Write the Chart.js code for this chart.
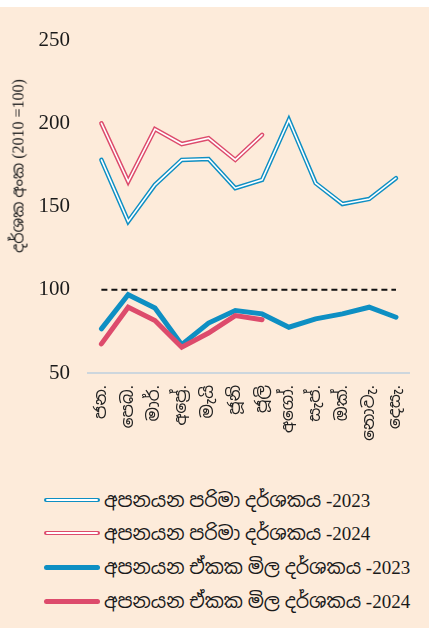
<!DOCTYPE html>
<html>
<head>
<meta charset="utf-8">
<script src="https://cdn.jsdelivr.net/npm/chart.js@4.4.1/dist/chart.umd.min.js"></script>
<style>
  html, body { margin: 0; padding: 0; background: #ffffff; }
  #page { position: relative; width: 429px; height: 628px; overflow: hidden; }
  #bg { position: absolute; left: 0; top: 7px; width: 429px; height: 621px; background: #FDEBDA; }
  #wrap { position: absolute; left: 0; top: 0; width: 429px; height: 470px; }
  #ytitle { position: absolute; left: 18px; top: 166px; transform: translate(-50%, -50%) rotate(-90deg);
    white-space: nowrap; font-family: "Liberation Serif", "Noto Sans Sinhala", serif; font-size: 16px; color: #222; }
  .leg { position: absolute; left: 44px; height: 24px; display: flex; align-items: center;
    font-family: "Liberation Serif", "Noto Sans Sinhala", serif; font-size: 19px; color: #1a1a1a; white-space: nowrap; }
  .sw { position: relative; width: 56px; border-radius: 3px; margin-right: 4px; flex: none; }
  .sw .in { position: absolute; left: 2px; right: 2px; top: 1.5px; height: 1.6px; background: #fff; border-radius: 1px; }
</style>
</head>
<body>
<div id="page">
  <div id="bg"></div>
  <div id="wrap"><canvas id="c"></canvas></div>
  <div id="ytitle">දර්ශක අංක (2010 =100)</div>
  <div id="legend"></div>
</div>
<script>
const months = ["ජන.", "පෙබ.", "මාර්.", "අප්‍රේ.", "මැයි", "ජූනි", "ජූලි", "අගෝ.", "සැප්.", "ඔක්.", "නොවැ.", "දෙසැ."];
const volume2023 = [178, 141, 163, 178, 178.5, 161, 166, 202, 164, 151.5, 154.5, 167];
const volume2024 = [200, 165, 196.5, 187.5, 191, 178, 193];
const unitValue2023 = [76.5, 97, 89, 67, 80, 87.5, 85.5, 77.5, 82.5, 85.5, 89.5, 83.5];
const unitValue2024 = [67.5, 89.5, 81.5, 65.5, 74, 84.5, 82];
const baseLine = [100, 100, 100, 100, 100, 100, 100, 100, 100, 100, 100, 100];
const yTicks = [50, 100, 150, 200, 250];
const seriesNames = ["අපනයන පරිමා දර්ශකය -2023", "අපනයන පරිමා දර්ශකය -2024", "අපනයන ඒකක මිල දර්ශකය -2023", "අපනයන ඒකක මිල දර්ශකය -2024"];

const BLUE = "#0E8FC3";
const RED = "#DD4B6C";
const WHITE = "#ffffff";

function line(data, color, width, extra) {
  return Object.assign({
    data: data, borderColor: color, backgroundColor: color, borderWidth: width,
    pointRadius: 0, pointHoverRadius: 0, tension: 0, fill: false,
    borderCapStyle: "round", borderJoinStyle: "miter"
  }, extra || {});
}

new Chart(document.getElementById("c"), {
  type: "line",
  data: {
    labels: months,
    datasets: [
      line(volume2024, WHITE, 1.6),
      line(volume2024, RED, 4.5),
      line(volume2023, WHITE, 1.6),
      line(volume2023, BLUE, 4.5),
      line(unitValue2024, RED, 5),
      line(unitValue2023, BLUE, 5),
      line(baseLine, "#111111", 2, { borderDash: [6, 4], borderCapStyle: "butt" })
    ]
  },
  options: {
    responsive: true,
    maintainAspectRatio: false,
    animation: false,
    layout: { padding: { left: 0, right: 15, top: 40, bottom: 0 } },
    plugins: { legend: { display: false }, tooltip: { enabled: false }, title: { display: false } },
    scales: {
      x: {
        offset: true,
        grid: { display: false, drawTicks: false },
        border: { display: true, color: "#CDD6DD", width: 2 },
        ticks: {
          autoSkip: false, maxRotation: 90, minRotation: 90, padding: 12,
          color: "#222", font: { family: "'Liberation Serif', 'Noto Sans Sinhala', serif", size: 17 }
        },
        afterFit: s => { s.height = 97; }
      },
      y: {
        min: 50, max: 250,
        afterBuildTicks: s => { s.ticks = yTicks.map(v => ({ value: v })); },
        grid: { display: false, drawTicks: false },
        border: { display: false },
        ticks: {
          padding: 18, color: "#1a1a1a",
          font: { family: "'Liberation Serif', serif", size: 21 }
        },
        afterFit: s => { s.width = 88; }
      }
    }
  }
});

// HTML legend
const legendRows = [
  { name: seriesNames[0], color: BLUE, dbl: true, y: 500 },
  { name: seriesNames[1], color: RED, dbl: true, y: 533 },
  { name: seriesNames[2], color: BLUE, dbl: false, y: 567 },
  { name: seriesNames[3], color: RED, dbl: false, y: 601 }
];
const lg = document.getElementById("legend");
legendRows.forEach(r => {
  const row = document.createElement("div");
  row.className = "leg";
  row.style.top = (r.y - 12) + "px";
  const sw = document.createElement("div");
  sw.className = "sw";
  sw.style.background = r.color;
  sw.style.height = r.dbl ? "4.6px" : "5px";
  if (r.dbl) { const i = document.createElement("div"); i.className = "in"; sw.appendChild(i); }
  row.appendChild(sw);
  const t = document.createElement("span");
  t.textContent = r.name;
  row.appendChild(t);
  lg.appendChild(row);
});
</script>
</body>
</html>
